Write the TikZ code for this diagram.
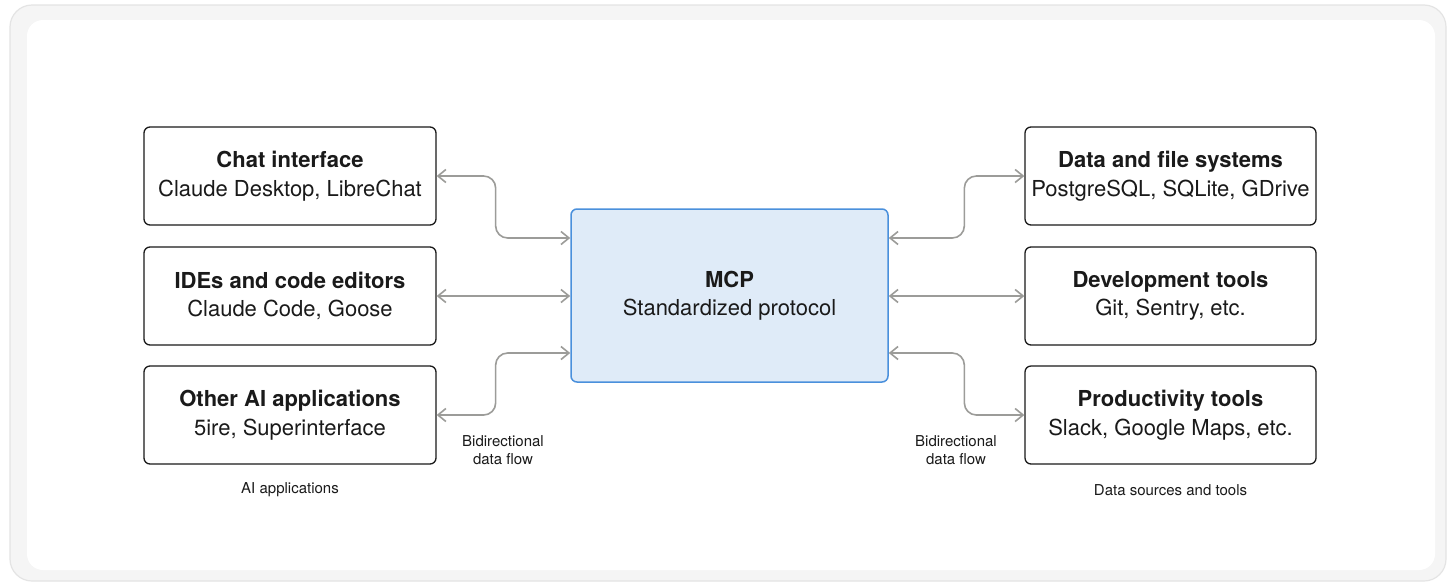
\documentclass[tikz,border=0pt]{standalone}
\usepackage{fontspec}
\setmainfont{TeX Gyre Heros}
\usetikzlibrary{arrows.meta}
\definecolor{ink}{HTML}{1A1A1A}
\definecolor{flowgray}{HTML}{9C9C99}
\definecolor{mcpfill}{HTML}{DFEBF8}
\definecolor{mcpline}{HTML}{4A90DC}
\definecolor{outerfill}{HTML}{F5F5F5}
\definecolor{outerline}{HTML}{E4E4E4}
\tikzset{
  appbox/.style={draw=ink, line width=1.3pt, rounded corners=6pt, fill=white,
    minimum width=292pt, minimum height=98pt, inner sep=0pt, align=center,
    text=ink, font=\fontsize{22}{28.5}\selectfont},
  mcpbox/.style={draw=mcpline, line width=1.5pt, rounded corners=6pt, fill=mcpfill,
    minimum width=317pt, minimum height=173pt, inner sep=0pt, align=center,
    text=ink, font=\fontsize{22}{28.5}\selectfont},
  flow/.style={draw=flowgray, line width=1.6pt, rounded corners=12pt,
    {Straight Barb[length=8pt,width=13pt,line width=1.6pt]}-{Straight Barb[length=8pt,width=13pt,line width=1.6pt]}},
  note/.style={align=center, text=ink, font=\fontsize{15}{18}\selectfont, inner sep=0pt},
}
\begin{document}
\begin{tikzpicture}[x=1pt,y=-1pt]
\useasboundingbox (0,0) rectangle (1450,582);
\fill[white] (0,0) rectangle (1450,582);
\draw[fill=outerfill, draw=outerline, line width=1.2pt, rounded corners=22pt] (10,5) rectangle (1446,581);
\fill[white, rounded corners=16pt] (27,20) rectangle (1435,570);

\node[appbox] (l1) at (290,176) {\textbf{Chat interface}\\Claude Desktop, LibreChat};
\node[appbox] (l2) at (290,296) {\textbf{IDEs and code editors}\\Claude Code, Goose};
\node[appbox] (l3) at (290,415) {\textbf{Other AI applications}\\5ire, Superinterface};

\node[appbox, minimum width=291pt] (r1) at (1170.5,176) {\textbf{Data and file systems}\\PostgreSQL, SQLite, GDrive};
\node[appbox, minimum width=291pt] (r2) at (1170.5,296) {\textbf{Development tools}\\Git, Sentry, etc.};
\node[appbox, minimum width=291pt] (r3) at (1170.5,415) {\textbf{Productivity tools}\\Slack, Google Maps, etc.};

\node[mcpbox] (mcp) at (729.5,295.5) {\textbf{MCP}\\Standardized protocol};

\draw[flow] (l1.east) -- ++(59,0) |- ([yshift=57.5pt]mcp.west);
\draw[flow] (l2.east) -- (l2.east -| mcp.west);
\draw[flow] (l3.east) -- ++(59,0) |- ([yshift=-57.5pt]mcp.west);

\draw[flow] (r1.west) -- ++(-60,0) |- ([yshift=57.5pt]mcp.east);
\draw[flow] (r2.west) -- (r2.west -| mcp.east);
\draw[flow] (r3.west) -- ++(-60,0) |- ([yshift=-57.5pt]mcp.east);

\node[note] (fl) at (503,450) {Bidirectional\\data flow};
\node[note] (fr) at (956,450) {Bidirectional\\data flow};
\node[note] (gl) at (290,490) {AI applications};
\node[note] (gr) at (1170.5,490) {Data sources and tools};
\end{tikzpicture}
\end{document}
